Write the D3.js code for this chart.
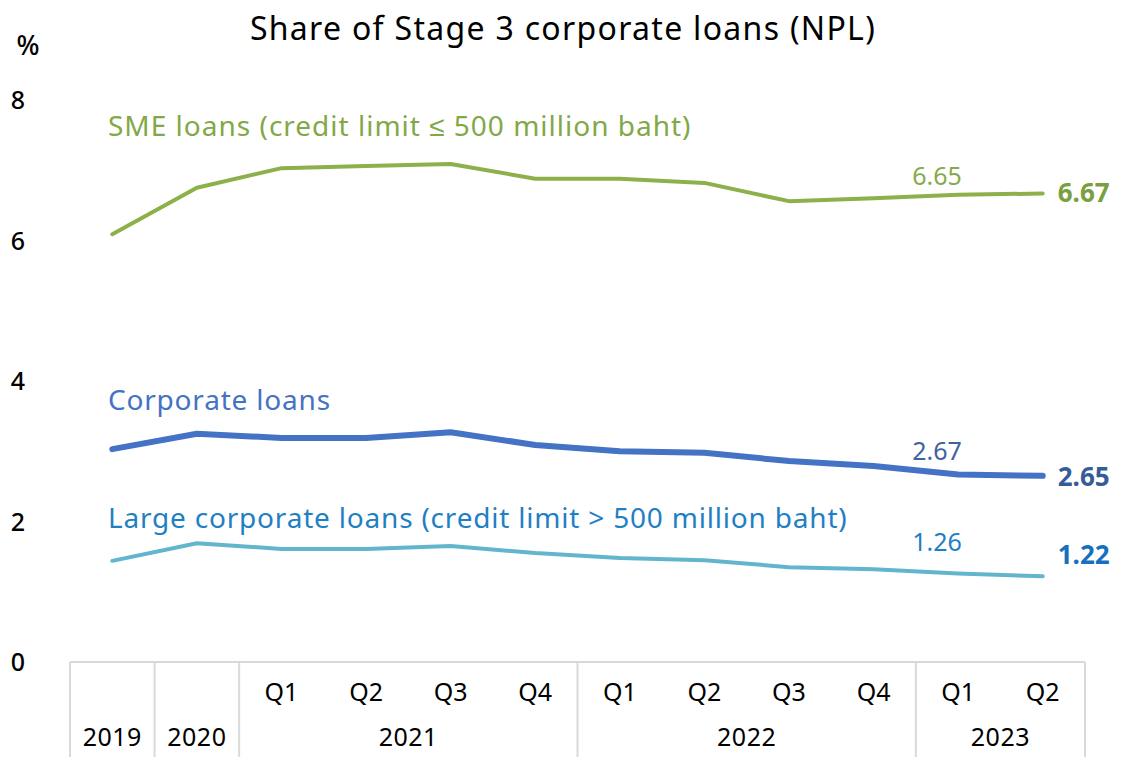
<!DOCTYPE html>
<meta charset="utf-8">
<html>
<head>
    <title>Share of Stage 3 corporate loans (NPL)</title>
    <script src="https://d3js.org/d3.v7.min.js"></script>
</head>
<style>
    body { margin: 0; background: white; font-family: "Noto Sans", sans-serif; }
</style>
<body>
<div id="chartdiv"></div>
<script>

// data
var quarters = ["", "", "Q1", "Q2", "Q3", "Q4", "Q1", "Q2", "Q3", "Q4", "Q1", "Q2"];
var years    = ["2019", "2020", "2021", "2021", "2021", "2021", "2022", "2022", "2022", "2022", "2023", "2023"];
var smeVals   = [6.09, 6.75, 7.03, 7.06, 7.09, 6.88, 6.88, 6.82, 6.56, 6.60, 6.65, 6.67];
var corpVals  = [3.03, 3.25, 3.19, 3.19, 3.27, 3.09, 3.00, 2.98, 2.86, 2.79, 2.67, 2.65];
var largeVals = [1.44, 1.69, 1.61, 1.61, 1.65, 1.55, 1.48, 1.45, 1.35, 1.32, 1.26, 1.22];
var yTicks = [0, 2, 4, 6, 8];

const W = 1127, H = 757;
const plotL = 70, plotR = 1085, plotT = 100, plotB = 662;
const colorSme = "#8cb04a", colorCorp = "#4472c4", colorLarge = "#62b5cc";
const gridColor = "#d9d9d9";

var idx = quarters.map((_, i) => i);

var x = d3.scaleBand()
    .domain(idx)
    .range([plotL, plotR])
    .padding(0);

var y = d3.scaleLinear()
    .domain([0, 8])
    .range([plotB, plotT]);

const svg = d3.select("#chartdiv")
    .append("svg")
    .attr("width", W)
    .attr("height", H);

// title and unit
svg.append("text")
    .attr("x", 563).attr("y", 40)
    .style("font-size", "32px")
    .style("letter-spacing", "1.3px")
    .style("text-anchor", "middle")
    .style("fill", "black")
    .text("Share of Stage 3 corporate loans (NPL)");

svg.append("text")
    .attr("x", 28).attr("y", 55)
    .style("font-size", "27px")
    .style("font-weight", "500")
    .style("text-anchor", "middle")
    .text("%");

// y tick labels
svg.append("g").selectAll("text")
    .data(yTicks)
    .enter()
    .append("text")
    .attr("x", 18)
    .attr("y", d => y(d))
    .attr("dy", "0.36em")
    .style("font-size", "25px")
    .style("font-weight", "500")
    .style("text-anchor", "middle")
    .text(d => d);

// category axis box
svg.append("line")
    .attr("x1", plotL).attr("x2", plotR)
    .attr("y1", plotB).attr("y2", plotB)
    .attr("stroke", gridColor).attr("stroke-width", 2);

// group boundaries where the year changes
var bounds = [plotL];
idx.forEach(i => { if (i > 0 && years[i] !== years[i - 1]) bounds.push(x(i)); });
bounds.push(plotR);

svg.append("g").selectAll("line")
    .data(bounds)
    .enter()
    .append("line")
    .attr("x1", d => d).attr("x2", d => d)
    .attr("y1", plotB).attr("y2", H)
    .attr("stroke", gridColor).attr("stroke-width", 2);

// quarter labels
svg.append("g").selectAll("text")
    .data(idx.filter(i => quarters[i] !== ""))
    .enter()
    .append("text")
    .attr("x", i => x(i) + x.bandwidth() / 2)
    .attr("y", 701)
    .style("font-size", "25px")
    .style("text-anchor", "middle")
    .text(i => quarters[i]);

// year labels centred on each group
var groups = [];
for (var b = 0; b < bounds.length - 1; b++) {
    var i0 = idx.find(i => x(i) >= bounds[b] - 0.5);
    groups.push({ label: years[i0], mid: (bounds[b] + bounds[b + 1]) / 2 });
}
svg.append("g").selectAll("text")
    .data(groups)
    .enter()
    .append("text")
    .attr("x", d => d.mid)
    .attr("y", 746)
    .style("font-size", "25px")
    .style("letter-spacing", "0.5px")
    .style("text-anchor", "middle")
    .text(d => d.label);

// lines
var line = d3.line()
    .x((d, i) => x(i) + x.bandwidth() / 2)
    .y(d => y(d));

function drawSeries(vals, color, width) {
    svg.append("path")
        .datum(vals)
        .attr("d", line)
        .attr("fill", "none")
        .attr("stroke", color)
        .attr("stroke-width", width)
        .attr("stroke-linecap", "round")
        .attr("stroke-linejoin", "round");
}
drawSeries(smeVals, colorSme, 4);
drawSeries(corpVals, colorCorp, 6);
drawSeries(largeVals, colorLarge, 4);

// series names
function seriesName(txt, yPos, color, spacing) {
    svg.append("text")
        .attr("x", 108).attr("y", yPos)
        .style("font-size", "28px")
        .style("letter-spacing", spacing + "px")
        .style("fill", color)
        .text(txt);
}
seriesName("SME loans (credit limit \u2264 500 million baht)", 136, "#82a848", 1);
seriesName("Corporate loans", 410, "#4472c4", 0.8);
seriesName("Large corporate loans (credit limit > 500 million baht)", 528, "#1f7fc4", 0.8);

// value labels: previous quarter (regular) and latest (bold)
var last = idx.length - 1;
function valueLabels(vals, colPrev, colLast, offPrev, offLast) {
    svg.append("text")
        .attr("x", x(last - 1) + x.bandwidth() / 2 - 21)
        .attr("y", y(vals[last - 1]) + offPrev)
        .style("font-size", "25px")
        .style("text-anchor", "middle")
        .style("fill", colPrev)
        .text(vals[last - 1].toFixed(2));
    svg.append("text")
        .attr("x", x(last) + x.bandwidth() / 2 + 15)
        .attr("y", y(vals[last]) + offLast)
        .style("font-size", "26px")
        .style("font-weight", "700")
        .style("fill", colLast)
        .text(vals[last].toFixed(2));
}
valueLabels(smeVals, "#86ab4e", "#78a040", -10, 9);
valueLabels(corpVals, "#3f62a0", "#365c98", -14, 10);
valueLabels(largeVals, "#1f7fc4", "#1670bd", -22, -12);

</script>
</body>
</html>
